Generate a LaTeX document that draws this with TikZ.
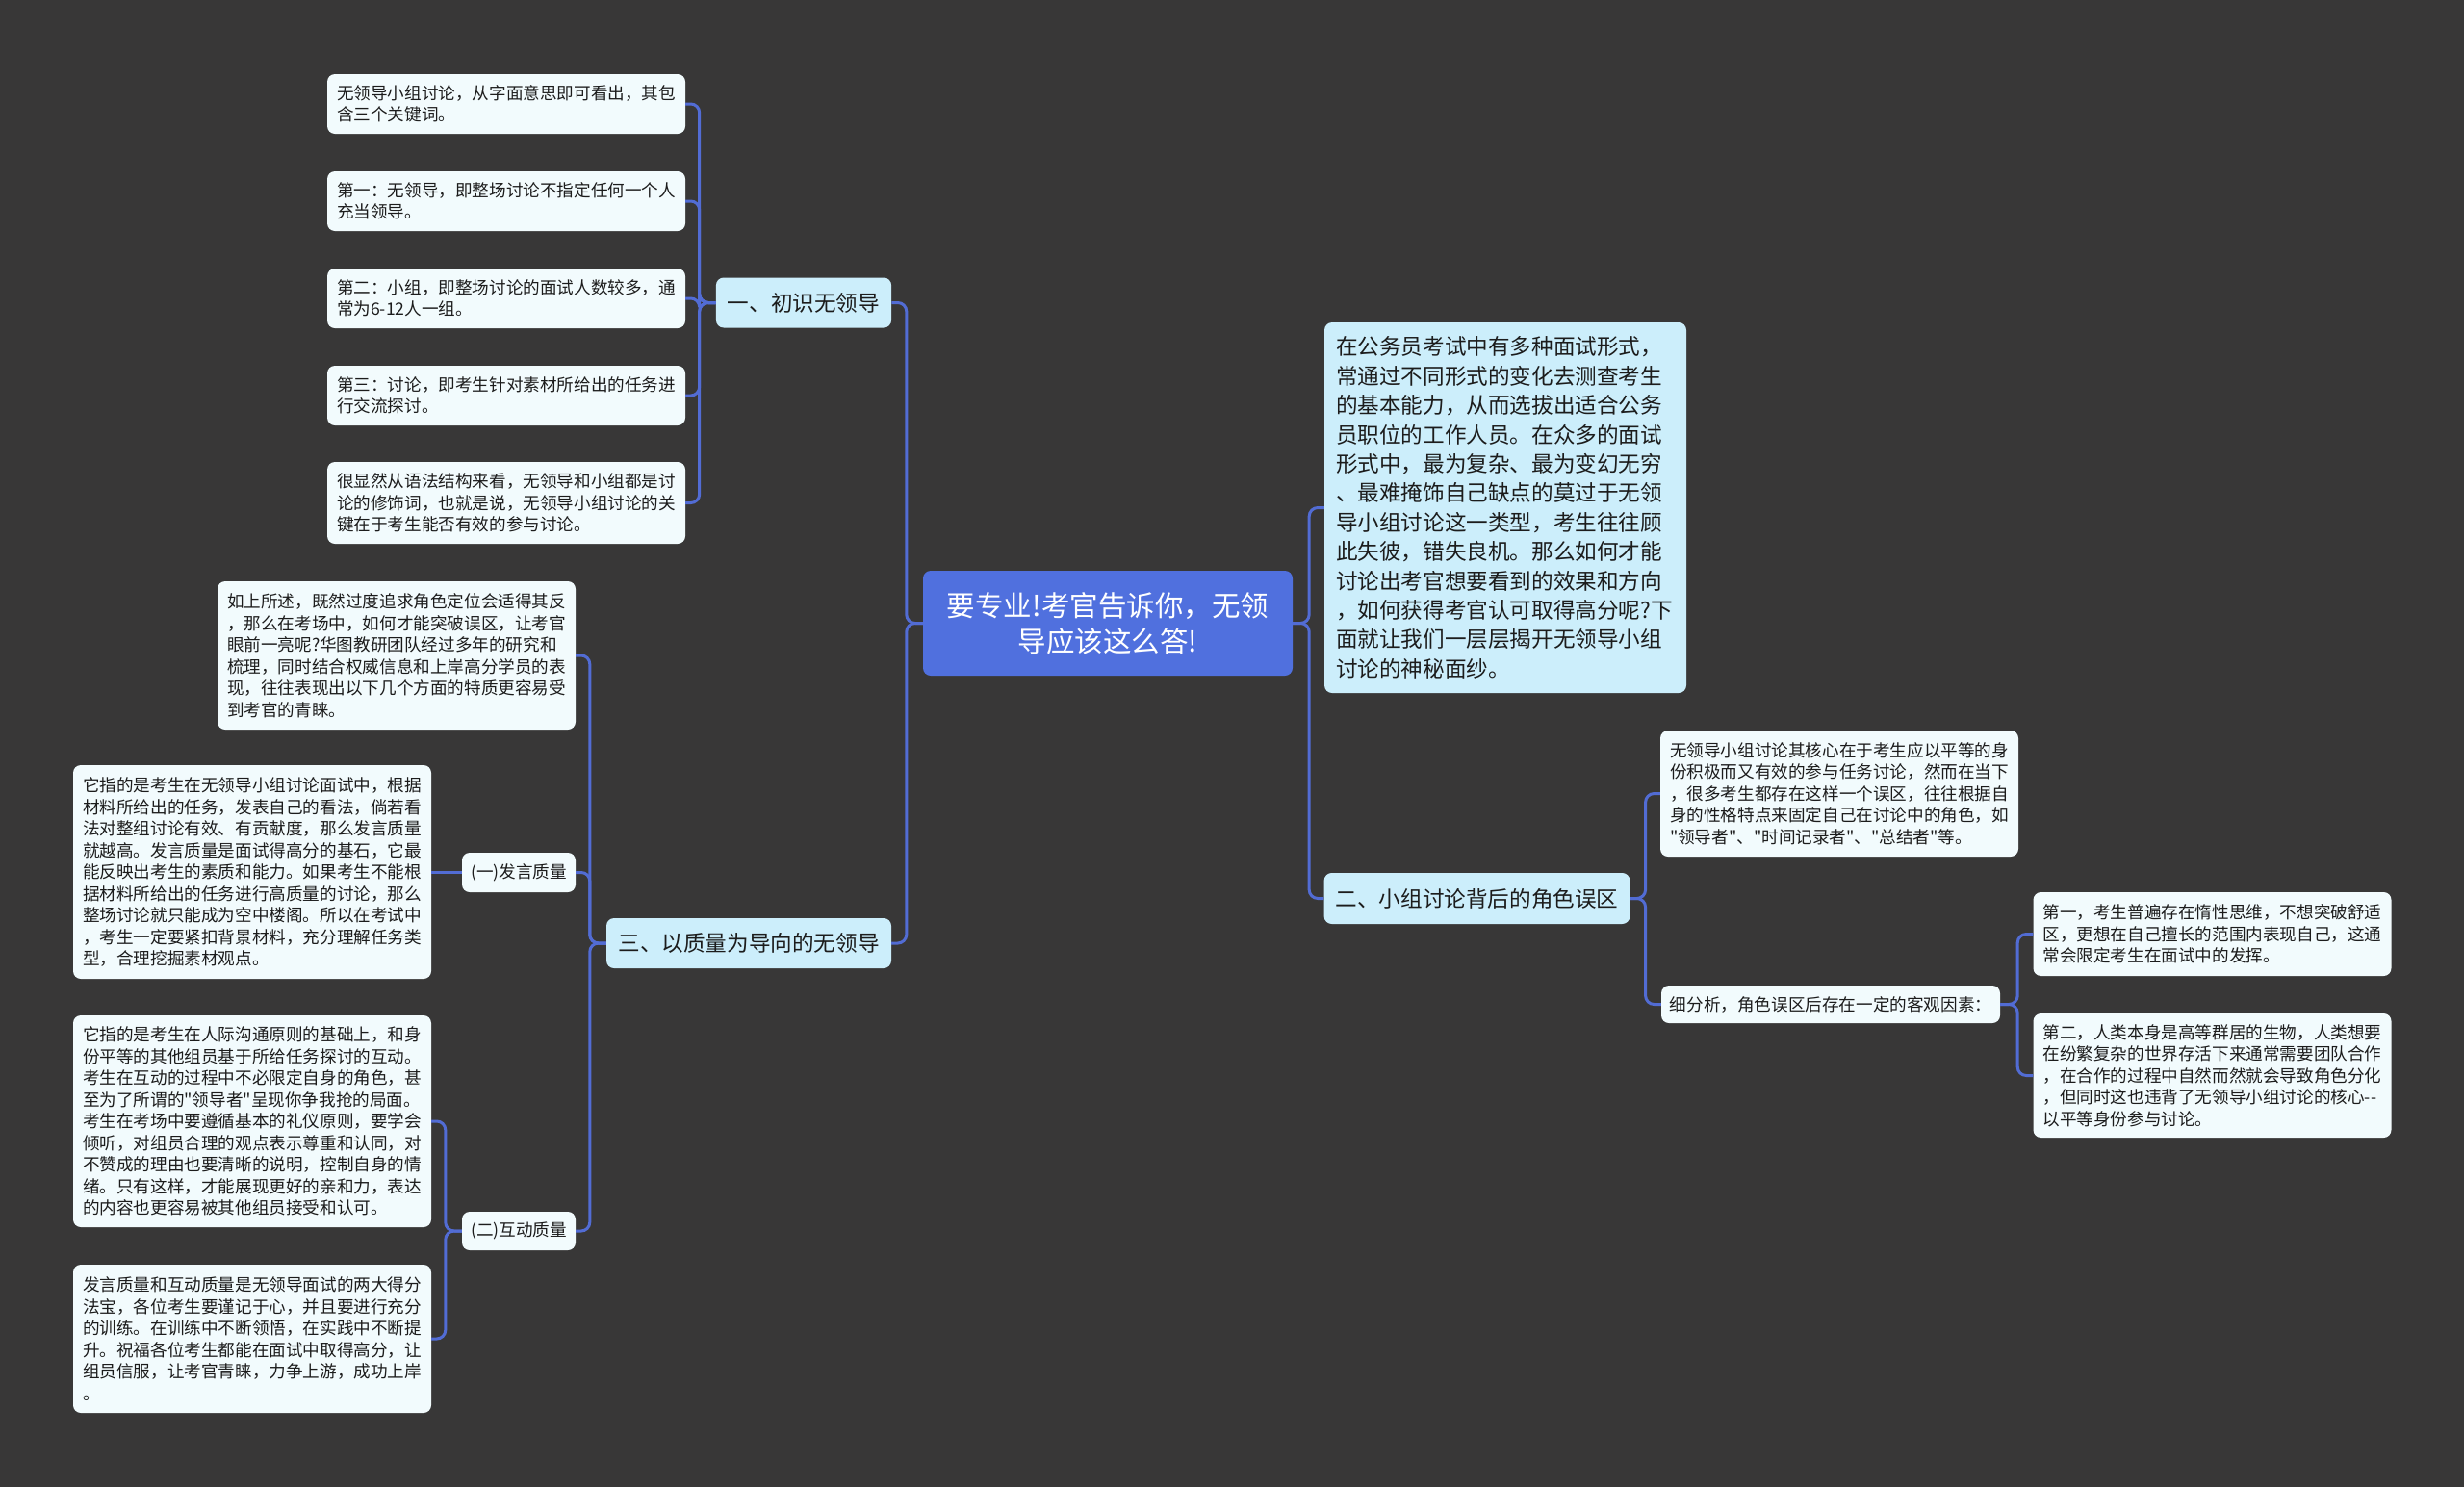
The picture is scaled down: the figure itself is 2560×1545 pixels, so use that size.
\documentclass[tikz,border=0pt]{standalone}
\usepackage{fontspec}
\newfontfamily\cjk{Noto Sans CJK SC}
\definecolor{bgc}{RGB}{56,55,55}
\definecolor{connc}{RGB}{82,108,212}
\definecolor{rootc}{RGB}{80,112,222}
\definecolor{branchc}{RGB}{204,238,251}
\definecolor{leafc}{RGB}{242,251,253}
\definecolor{txtc}{RGB}{28,28,28}
\tikzset{
  conn/.style={draw=connc, line width=3pt, rounded corners=9pt},
  basebox/.style={rounded corners=8pt, inner ysep=0pt, text=txtc, align=left},
  leaf/.style={basebox, fill=leafc, inner xsep=10pt, text width=352pt,
    font=\cjk\fontsize{17.6}{22.5}\selectfont},
  small/.style={basebox, fill=leafc, inner xsep=8pt,
    font=\cjk\fontsize{17.6}{22.5}\selectfont},
  branch/.style={basebox, fill=branchc, inner xsep=12pt,
    font=\cjk\fontsize{22.6}{29}\selectfont},
  introbox/.style={basebox, fill=branchc, inner xsep=12pt,
    font=\cjk\fontsize{22.6}{30.4}\selectfont},
  rootbox/.style={basebox, fill=rootc, text=white, align=center, inner xsep=12pt,
    text width=360pt, font=\cjk\fontsize{29.5}{37}\selectfont}
}
\begin{document}
\begin{tikzpicture}[x=1pt,y=-1pt]
\useasboundingbox (0,0) rectangle (2560,1545);
\fill[bgc] (0,0) rectangle (2560,1545);

% root
\node[rootbox, minimum height=109pt] (root) at (1151,647.5)
  {要专业!考官告诉你，无领\\导应该这么答!};

% branch 1
\node[branch, minimum width=182pt, minimum height=52pt] (B1) at (835,314.5) {一、初识无领导};
\node[leaf, minimum height=62pt] (L1) at (526,108)
  {无领导小组讨论，从字面意思即可看出，其包\\含三个关键词。};
\node[leaf, minimum height=62pt] (L2) at (526,209)
  {第一：无领导，即整场讨论不指定任何一个人\\充当领导。};
\node[leaf, minimum height=62pt] (L3) at (526,310)
  {第二：小组，即整场讨论的面试人数较多，通\\常为6-12人一组。};
\node[leaf, minimum height=62pt] (L4) at (526,411)
  {第三：讨论，即考生针对素材所给出的任务进\\行交流探讨。};
\node[leaf, minimum height=85pt] (L5) at (526,522.5)
  {很显然从语法结构来看，无领导和小组都是讨\\论的修饰词，也就是说，无领导小组讨论的关\\键在于考生能否有效的参与讨论。};

% branch 3
\node[branch, minimum width=296pt, minimum height=52pt] (B3) at (778,980) {三、以质量为导向的无领导};
\node[leaf, minimum height=154pt] (R1) at (412,681)
  {如上所述，既然过度追求角色定位会适得其反\\，那么在考场中，如何才能突破误区，让考官\\眼前一亮呢?华图教研团队经过多年的研究和\\梳理，同时结合权威信息和上岸高分学员的表\\现，往往表现出以下几个方面的特质更容易受\\到考官的青睐。};
\node[small, minimum width=118pt, minimum height=41pt] (S1) at (539,906.5) {(一)发言质量};
\node[leaf, minimum height=222pt] (S1c) at (262,906)
  {它指的是考生在无领导小组讨论面试中，根据\\材料所给出的任务，发表自己的看法，倘若看\\法对整组讨论有效、有贡献度，那么发言质量\\就越高。发言质量是面试得高分的基石，它最\\能反映出考生的素质和能力。如果考生不能根\\据材料所给出的任务进行高质量的讨论，那么\\整场讨论就只能成为空中楼阁。所以在考试中\\，考生一定要紧扣背景材料，充分理解任务类\\型，合理挖掘素材观点。};
\node[small, minimum width=118pt, minimum height=40pt] (S2) at (539,1279) {(二)互动质量};
\node[leaf, minimum height=220pt] (S2a) at (262,1165)
  {它指的是考生在人际沟通原则的基础上，和身\\份平等的其他组员基于所给任务探讨的互动。\\考生在互动的过程中不必限定自身的角色，甚\\至为了所谓的"领导者"呈现你争我抢的局面。\\考生在考场中要遵循基本的礼仪原则，要学会\\倾听，对组员合理的观点表示尊重和认同，对\\不赞成的理由也要清晰的说明，控制自身的情\\绪。只有这样，才能展现更好的亲和力，表达\\的内容也更容易被其他组员接受和认可。};
\node[leaf, minimum height=154pt] (S2b) at (262,1391)
  {发言质量和互动质量是无领导面试的两大得分\\法宝，各位考生要谨记于心，并且要进行充分\\的训练。在训练中不断领悟，在实践中不断提\\升。祝福各位考生都能在面试中取得高分，让\\组员信服，让考官青睐，力争上游，成功上岸\\。};

% right side
\node[introbox, text width=352pt, minimum height=385pt] (intro) at (1564,527.5)
  {在公务员考试中有多种面试形式，\\常通过不同形式的变化去测查考生\\的基本能力，从而选拔出适合公务\\员职位的工作人员。在众多的面试\\形式中，最为复杂、最为变幻无穷\\、最难掩饰自己缺点的莫过于无领\\导小组讨论这一类型，考生往往顾\\此失彼，错失良机。那么如何才能\\讨论出考官想要看到的效果和方向\\，如何获得考官认可取得高分呢?下\\面就让我们一层层揭开无领导小组\\讨论的神秘面纱。};
\node[branch, minimum width=317pt, minimum height=53pt] (B2) at (1534.5,933.5) {二、小组讨论背后的角色误区};
\node[leaf, minimum height=131pt] (B2a) at (1911,824.5)
  {无领导小组讨论其核心在于考生应以平等的身\\份积极而又有效的参与任务讨论，然而在当下\\，很多考生都存在这样一个误区，往往根据自\\身的性格特点来固定自己在讨论中的角色，如\\"领导者"、"时间记录者"、"总结者"等。};
\node[small, minimum width=352pt, minimum height=39pt] (B2b) at (1902,1043.5) {细分析，角色误区后存在一定的客观因素：};
\node[leaf, minimum height=87pt] (B2b1) at (2298.5,970.5)
  {第一，考生普遍存在惰性思维，不想突破舒适\\区，更想在自己擅长的范围内表现自己，这通\\常会限定考生在面试中的发挥。};
\node[leaf, minimum height=129pt] (B2b2) at (2298.5,1117.5)
  {第二，人类本身是高等群居的生物，人类想要\\在纷繁复杂的世界存活下来通常需要团队合作\\，在合作的过程中自然而然就会导致角色分化\\，但同时这也违背了无领导小组讨论的核心--\\以平等身份参与讨论。};

% connectors
\draw[conn] (root.west) -- ++(-17,0) |- (B1.east);
\draw[conn] (root.west) -- ++(-17,0) |- (B3.east);
\draw[conn] (root.east) -- ++(17,0) |- (intro.west);
\draw[conn] (root.east) -- ++(17,0) |- (B2.west);
\foreach \n in {L1,L2,L3,L4,L5}
  \draw[conn] (B1.west) -- ++(-17,0) |- (\n.east);
\foreach \n in {R1,S1,S2}
  \draw[conn] (B3.west) -- ++(-17,0) |- (\n.east);
\draw[conn] (S1.west) -- (S1.west -| S1c.east);
\foreach \n in {S2a,S2b}
  \draw[conn] (S2.west) -- ++(-17,0) |- (\n.east);
\foreach \n in {B2a,B2b}
  \draw[conn] (B2.east) -- ++(16,0) |- (\n.west);
\foreach \n in {B2b1,B2b2}
  \draw[conn] (B2b.east) -- ++(18,0) |- (\n.west);
\end{tikzpicture}
\end{document}
